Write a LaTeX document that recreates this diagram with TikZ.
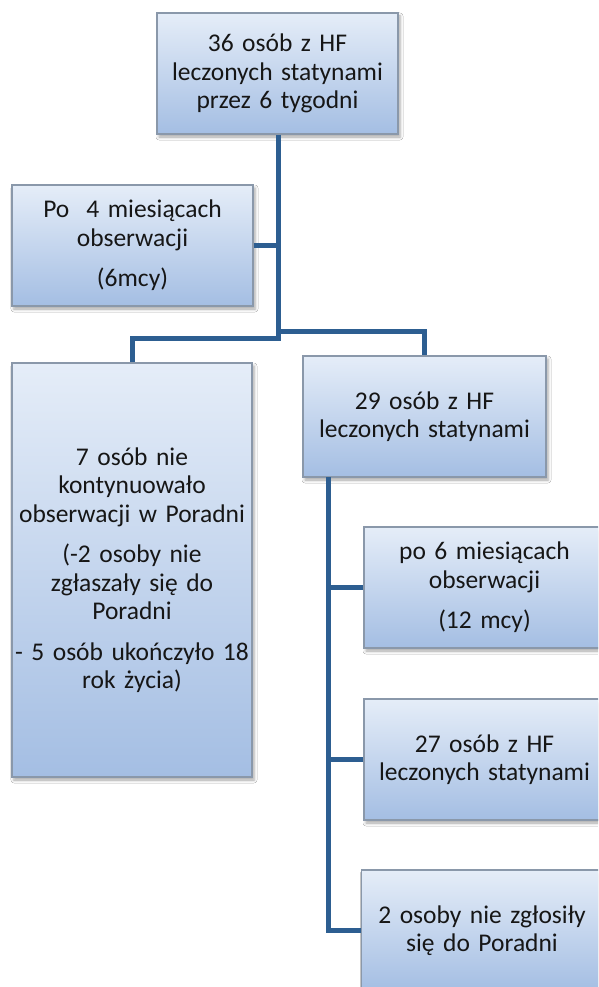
\documentclass[tikz,border=0pt]{standalone}
\usepackage{fontspec}
\setmainfont{Carlito}
\usetikzlibrary{shadows.blur}
\definecolor{boxtop}{RGB}{229,237,248}
\definecolor{boxbot}{RGB}{164,190,227}
\definecolor{boxedge}{RGB}{138,152,170}
\definecolor{linkblue}{RGB}{45,94,145}
\definecolor{ink}{RGB}{22,22,22}
\tikzset{
  stagebox/.style={
    draw=boxedge, line width=1.2pt,
    top color=boxtop, bottom color=boxbot,
    minimum width=241pt, minimum height=121pt,
    text width=240pt, align=center, inner sep=0pt,
    text=ink, font=\fontsize{25.5}{28.5}\selectfont,
    blur shadow={shadow xshift=2pt, shadow yshift=-3pt,
      shadow blur radius=3pt, shadow opacity=35}
  },
  link/.style={draw=linkblue, line width=5pt}
}
\newcommand{\pgap}{\\[12pt]}
\begin{document}
\begin{tikzpicture}[x=1pt,y=-1pt]
  \useasboundingbox (0,0) rectangle (598,987);
  \fill[white] (0,0) rectangle (598,987);
  \clip (0,0) rectangle (598,987);

  % boxes
  \node[stagebox] (top) at (277.5,73.5)
    {36 osób z HF\\leczonych statynami\\przez 6 tygodni};
  \node[stagebox] (po4) at (132.5,245.5)
    {Po\ \ 4 miesiącach\\obserwacji\pgap(6mcy)};
  \node[stagebox, minimum width=240pt, minimum height=414pt] (quit) at (132,570)
    {7 osób nie\\kontynuowało\\obserwacji w Poradni\pgap(-2 osoby nie\\zgłaszały się do\\Poradni\pgap- 5 osób ukończyło 18\\rok życia)};
  \node[stagebox, minimum width=243pt] (r29) at (424.5,416.5)
    {29 osób z HF\\leczonych statynami};
  \node[stagebox] (r6) at (484.5,587.5)
    {po 6 miesiącach\\obserwacji\pgap(12 mcy)};
  \node[stagebox] (r27) at (484.5,759.5)
    {27 osób z HF\\leczonych statynami};
  \node[stagebox] (r2) at (482,930.5)
    {2 osoby nie zgłosiły\\się do Poradni};

  % junction points of the trunks
  \coordinate (jl) at (278,338);
  \coordinate (jr) at (278,331);
  \coordinate (rt) at (328,477);

  % connectors
  \draw[link] (top.south -| jl) -- (jl) -| (quit.north);
  \draw[link] (jr) -| (r29.north);
  \draw[link] (po4.east) -- (po4.east -| jl);
  \draw[link] (rt) |- (r2.west);
  \draw[link] (r6.west) -- (r6.west -| rt);
  \draw[link] (r27.west) -- (r27.west -| rt);
\end{tikzpicture}
\end{document}
